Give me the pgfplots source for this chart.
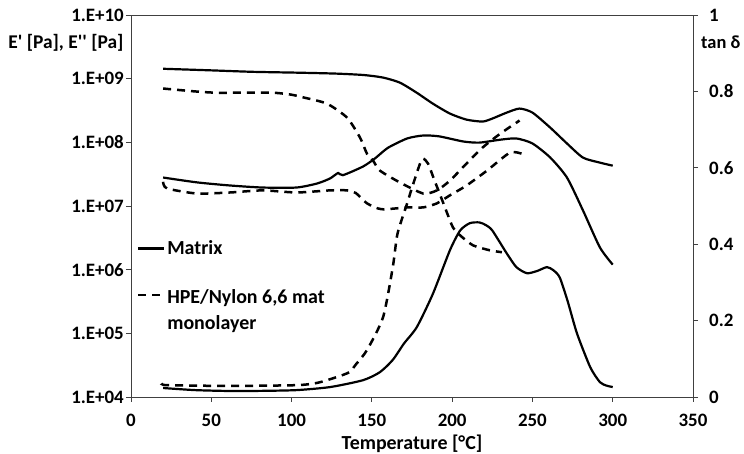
\documentclass[border=0pt]{standalone}
\usepackage{pgfplots}
\pgfplotsset{compat=1.18}
\usepackage{fontspec}
\setmainfont{Carlito}
\newcommand{\tickfont}{\bfseries\fontsize{19}{22}\selectfont}
\newcommand{\labfont}{\bfseries\fontsize{20}{26}\selectfont}
\begin{document}
\begin{tikzpicture}
\useasboundingbox (-131bp,-57bp) rectangle (613bp,397bp);
\pgfplotsset{
  myax/.style={
    scale only axis, width=562bp, height=382bp,
    xmin=0, xmax=350,
    axis line style={black!75, line width=0.9bp},
    tick style={black!75, line width=0.9bp},
    tick align=outside, major tick length=5bp,
    /pgf/number format/assume math mode=true,
    ticklabel style={font=\tickfont},
  },
  curve/.style={black, line width=2.2bp, smooth, tension=0.4},
  dcurve/.style={black, line width=2.5bp, smooth, tension=0.4, dash pattern=on 8bp off 6bp},
}
\begin{axis}[myax,
  ymode=log, ymin=1e4, ymax=1e10,
  ytick={1e4,1e5,1e6,1e7,1e8,1e9,1e10},
  yticklabels={1.E+04,1.E+05,1.E+06,1.E+07,1.E+08,1.E+09,1.E+10},
  yminorticks=false,
  xtick={0,50,100,150,200,250,300,350},
  xticklabels={0,50,100,150,200,250,300,350},
  xtick pos=left, ytick pos=left,
  yticklabel style={inner sep=0pt, xshift=-2bp},
  xticklabel style={inner sep=0pt, yshift=-12bp},
  legend style={at={(rel axis cs:0.01,0.415)}, anchor=north west, draw=none, fill=none,
    font=\labfont, row sep=25bp, inner sep=0pt, nodes={inner sep=2bp}},
  legend cell align=left,
  legend image code/.code={\draw[#1] (0bp,0bp) -- (26bp,0bp);},
]
% E' Matrix
\addplot[curve] coordinates {
(20,1.43e9)(50,1.35e9)(76,1.28e9)(105,1.24e9)(128,1.2e9)(145,1.14e9)(157,1.04e9)
(167.5,8.65e8)(178,6.0e8)(188,4.05e8)(198.6,2.83e8)(209,2.27e8)(219,2.12e8)
(225,2.36e8)(234,2.93e8)(242,3.39e8)(250,2.93e8)(261,1.71e8)(271.5,9.6e7)
(281.5,5.75e7)(292,4.8e7)(300,4.3e7)};
\addlegendentry{Matrix}
% E' HPE
\addplot[dcurve] coordinates {
(20,7.0e8)(40,6.3e8)(55,6.0e8)(86.5,6.05e8)(100,5.6e8)(107,5.1e8)(122,4.05e8)(134.5,2.45e8)
(142.6,1.19e8)(147,6.6e7)(150.7,5.2e7)(155,3.6e7)(167.5,2.34e7)(182,1.57e7)
(190.5,1.76e7)(198.6,2.5e7)(209,4.66e7)(219,8.3e7)(230,1.37e8)(242,2.2e8)};
\addlegendentry{\begin{tabular}[t]{@{}l@{}}HPE/Nylon 6,6 mat\\monolayer\end{tabular}}
% E'' Matrix
\addplot[curve, forget plot] coordinates {
(20,2.8e7)(41,2.35e7)(61.6,2.1e7)(82,1.95e7)(103,1.95e7)(116,2.26e7)(124,2.71e7)
(129,3.3e7)(132,3.05e7)(144.5,4.17e7)(152,5.6e7)(160,8.2e7)(172,1.15e8)(182,1.28e8)(192,1.24e8)
(207,1.03e8)(217,9.9e7)(230,1.1e8)(240,1.15e8)(250,9.6e7)(261,5.8e7)(271.5,2.8e7)
(281.5,8.5e6)(292,2.24e6)(300,1.2e6)};
% E'' HPE
\addplot[dcurve, forget plot] coordinates {
(20,2.4e7)(22.4,1.89e7)(41,1.57e7)(61.6,1.63e7)(82,1.76e7)(103,1.63e7)(124,1.76e7)
(134.5,1.76e7)(140,1.6e7)(147,1.1e7)(156,8.9e6)(172,9.5e6)(182,9.5e6)(190.5,1.1e7)
(198.6,1.47e7)(209,2.1e7)(221.7,3.6e7)(236,6.9e7)(243.5,6.6e7)};
\end{axis}
\begin{axis}[myax,
  ymin=0, ymax=1,
  axis x line=none, axis y line*=right,
  ytick={0,0.2,0.4,0.6,0.8,1},
  yticklabels={0,0.2,0.4,0.6,0.8,1},
  yticklabel style={inner sep=0pt, xshift=11bp},
]
% tan delta Matrix
\addplot[curve] coordinates {
(20,0.0235)(40,0.018)(61.6,0.0157)(80,0.016)(103,0.018)(124,0.026)(144.5,0.044)
(155,0.065)(163,0.097)(170,0.14)(178,0.183)(188,0.27)(198.6,0.384)(205,0.436)
(211,0.455)(217,0.457)(221,0.45)(225,0.436)(234,0.376)(240,0.34)(246.6,0.324)
(253,0.33)(259,0.34)(263,0.332)(267,0.313)(272,0.25)(277.7,0.167)(286,0.078)
(292,0.039)(296,0.03)(300,0.026)};
% tan delta HPE
\addplot[dcurve] coordinates {
(20,0.035)(22.4,0.031)(61.6,0.029)(103,0.031)(116,0.037)(128,0.052)(136,0.065)
(140,0.085)(147,0.123)(157,0.209)(163,0.339)(166,0.428)(172,0.507)(175,0.548)
(180,0.611)(182,0.624)(185,0.611)(189,0.567)(192,0.535)(197,0.48)(200.5,0.444)
(205,0.423)(213,0.397)(223.5,0.384)(231,0.379)};
\end{axis}
\node[anchor=base east, font=\bfseries\fontsize{19.5}{24}\selectfont] at (-4bp,348bp) {E\textquotesingle\ [Pa], E\textquotesingle\textquotesingle\ [Pa]};
\node[anchor=base west, font=\bfseries\fontsize{18.5}{24}\selectfont, inner sep=0pt] at (570bp,348bp) {tan δ};
\node[anchor=base, font=\labfont] at (281bp,-52bp) {Temperature [°C]};
\end{tikzpicture}
\end{document}
